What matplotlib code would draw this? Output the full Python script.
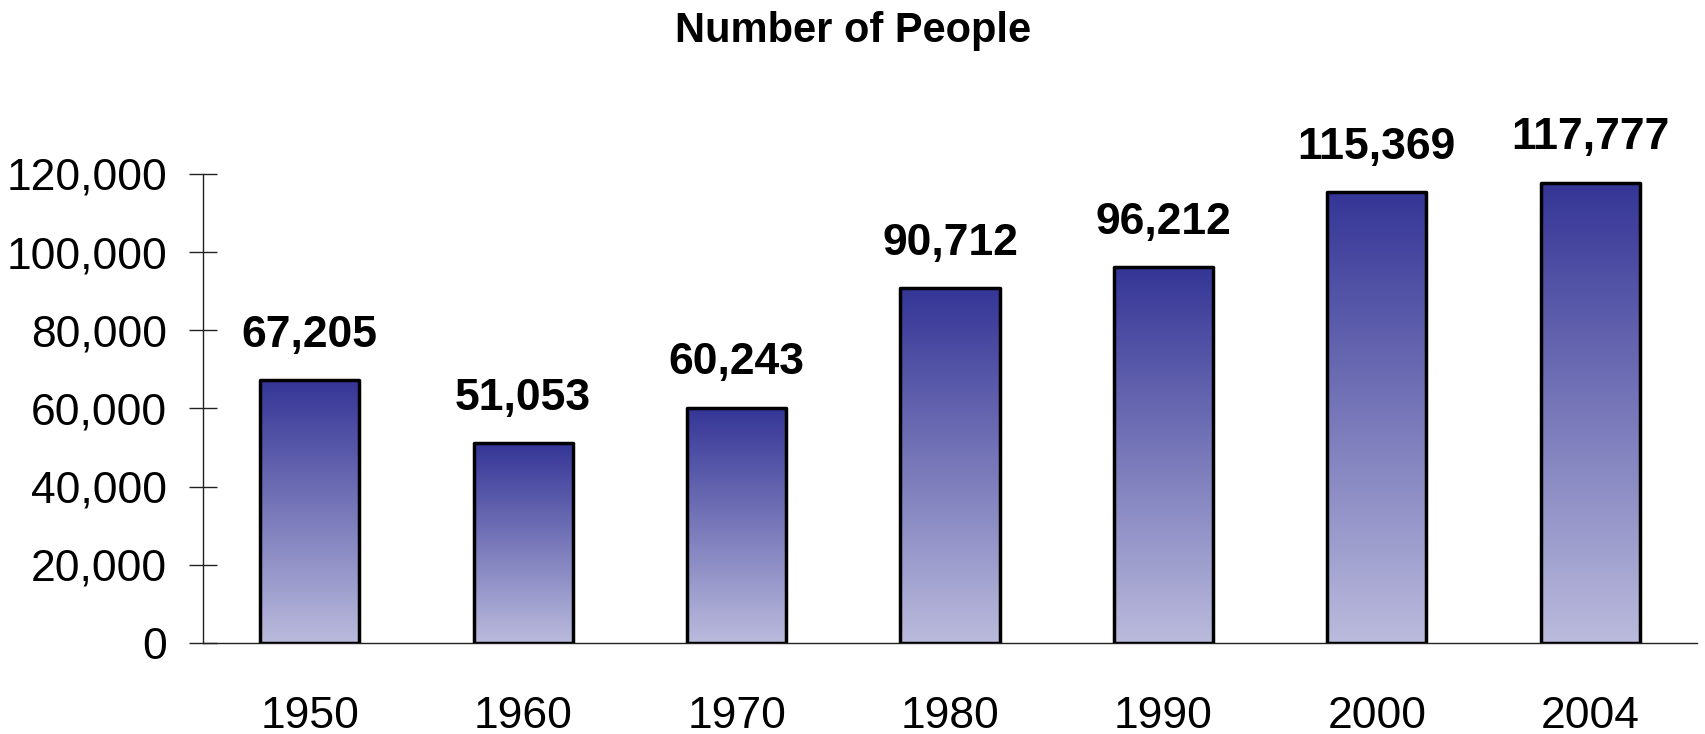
import numpy as np
from matplotlib import pyplot as plt
from matplotlib.colors import LinearSegmentedColormap
from matplotlib.ticker import FuncFormatter

years = ["1950", "1960", "1970", "1980", "1990", "2000", "2004"]
people = [67205, 51053, 60243, 90712, 96212, 115369, 117777]
y_ticks = [0, 20000, 40000, 60000, 80000, 100000, 120000]

TOP_COLOR = "#353597"
BOTTOM_COLOR = "#BBBBDD"

plt.rcParams["font.family"] = ["Liberation Sans", "DejaVu Sans"]


def draw_gradient_bars(ax, bars):
    cmap = LinearSegmentedColormap.from_list("grad", [BOTTOM_COLOR, TOP_COLOR])
    grad = np.linspace(0, 1, 256).reshape(-1, 1)
    for bar in bars:
        x0 = bar.get_x()
        w = bar.get_width()
        h = bar.get_height()
        img = ax.imshow(grad, cmap=cmap, origin="lower", aspect="auto",
                        extent=(x0, x0 + w, 0, h), zorder=2)
        img.set_clip_path(bar)


fig = plt.figure(figsize=(17.06, 7.34), dpi=100)
ax = fig.add_axes([0.119, 0.124, 0.8757, 0.639])

x = np.arange(len(years))
bars = ax.bar(x, people, width=0.465, facecolor="none", edgecolor="black",
              linewidth=2.5, joinstyle="round", zorder=3)
draw_gradient_bars(ax, bars)

for xi, val in zip(x, people):
    ax.annotate("{:,}".format(val), (xi, val), xytext=(0, 24),
                textcoords="offset points", ha="center", va="baseline",
                fontsize=32, fontweight="bold", annotation_clip=False)

ax.set_xlim(-0.5, len(years) - 0.5)
ax.set_ylim(0, 120000)
ax.set_yticks(y_ticks)
ax.yaxis.set_major_formatter(FuncFormatter(lambda v, p: "{:,}".format(int(v))))
ax.set_xticks(x)
ax.set_xticklabels(years)

ax.spines["top"].set_visible(False)
ax.spines["right"].set_visible(False)
ax.spines["left"].set_color("#222222")
ax.spines["bottom"].set_color("#222222")
ax.spines["left"].set_linewidth(1.0)
ax.spines["bottom"].set_linewidth(1.0)

ax.tick_params(axis="y", direction="inout", length=20, width=1.0,
               color="#222222", labelsize=32, pad=16)
ax.tick_params(axis="x", length=0, labelsize=32, pad=38)

fig.text(0.5, 0.958, "Number of People", ha="center", va="center",
         fontsize=30, fontweight="bold")

fig.savefig("out.png", dpi=100)
